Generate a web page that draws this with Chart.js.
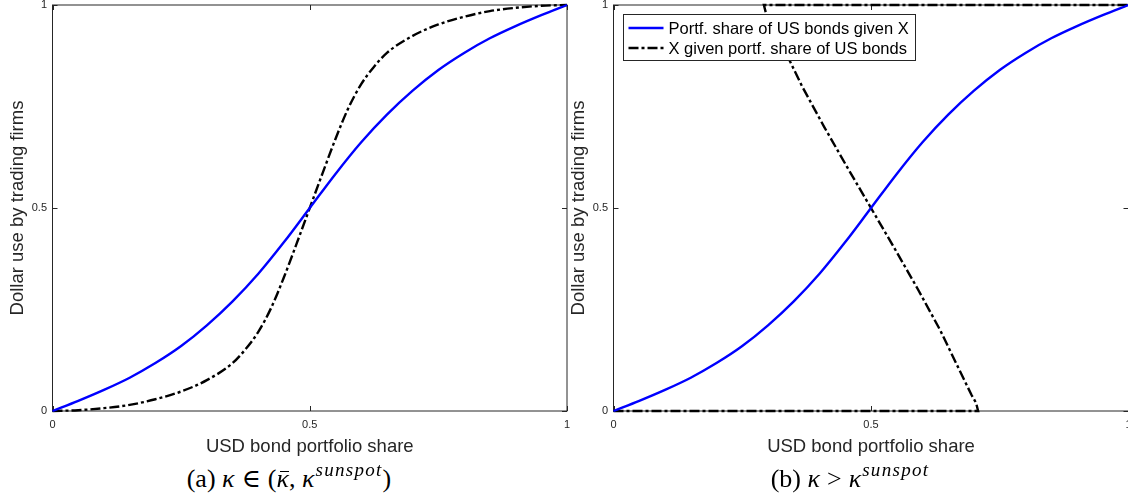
<!DOCTYPE html>
<html><head><meta charset="utf-8">
<script src="https://cdn.jsdelivr.net/npm/chart.js@4.4.1/dist/chart.umd.min.js"></script>
<style>
html,body{margin:0;padding:0;background:#fff;}
body{width:1128px;height:502px;overflow:hidden;position:relative;}
canvas{position:absolute;top:0;display:block;}
#ca{left:0;}
#cb{left:561px;}
.cap{position:absolute;top:466px;font-family:"Liberation Serif","DejaVu Serif",serif;font-size:26px;line-height:26px;text-align:center;color:#000;white-space:nowrap;}
.cap i{font-style:italic;}
.cap .sup{font-size:19px;position:relative;top:-11px;letter-spacing:1.3px;margin-left:1px;}
.cap .op{margin:0 7px;}
.cap .bar{position:relative;display:inline-block;}
.cap .bar::after{content:"";position:absolute;left:4px;right:0px;top:5px;border-top:1.6px solid #000;}
</style></head><body>
<canvas id="ca" width="580" height="462"></canvas>
<canvas id="cb" width="568" height="462"></canvas>
<div class="cap" style="left:0;width:578px;">(a) <i>κ</i><span class="op">∈</span>(<i class="bar">κ</i>, <i>κ</i><span class="sup"><i>sunspot</i></span>)</div>
<div class="cap" style="left:600px;width:500px;">(b) <i>κ</i><span class="op">&gt;</span><i>κ</i><span class="sup"><i>sunspot</i></span></div>
<script>
// ---- data ----
const xTickValues = [0, 0.5, 1];
const xTickLabels = ['0', '0.5', '1'];
const yTickValues = [0, 0.5, 1];
const yTickLabels = ['0', '0.5', '1'];
const xTitle = 'USD bond portfolio share';
const yTitle = 'Dollar use by trading firms';
const seriesNames = ['Portf. share of US bonds given X', 'X given portf. share of US bonds'];

// blue: portfolio share of US bonds given X (same in both panels)
const blueX = [0,0.05,0.1,0.15,0.2,0.25,0.3,0.35,0.4,0.45,0.5,0.55,0.6,0.65,0.7,0.75,0.8,0.85,0.9,0.95,1];
const blueY = [0,0.025,0.052,0.082,0.118,0.160,0.211,0.270,0.338,0.416,0.5,0.584,0.662,0.730,0.789,0.840,0.882,0.918,0.948,0.975,1];

// black, panel (a)
const blackAX = [0,0.05,0.1,0.15,0.2,0.25,0.3,0.35,0.375,0.4,0.425,0.45,0.475,0.5,0.525,0.55,0.575,0.6,0.625,0.65,0.7,0.75,0.8,0.85,0.9,0.95,1];
const blackAY = [0,0.002,0.007,0.015,0.029,0.048,0.076,0.118,0.152,0.195,0.254,0.33,0.414,0.5,0.586,0.67,0.746,0.805,0.848,0.882,0.924,0.952,0.971,0.985,0.993,0.998,1];

// black, panel (b) (path)
const blackBX = [0,0.708,0.704,0.695,0.672,0.634,0.591,0.546,0.5,0.454,0.409,0.366,0.328,0.305,0.296,0.292,1];
const blackBY = [0,0,0.02,0.04,0.1,0.2,0.3,0.4,0.5,0.6,0.7,0.8,0.9,0.96,0.98,1,1];

// ---- helpers ----
const FONT = '"Liberation Sans", Arial, Helvetica, sans-serif';
const AXIS = '#262626';
const pts = (xs, ys) => xs.map((x, i) => ({x: x, y: ys[i]}));

function mkScales() {
  return {
    x: {
      type: 'linear', min: 0, max: 1,
      afterBuildTicks: s => { s.ticks = xTickValues.map(v => ({value: v})); },
      afterFit: s => { s.height = 51; s.paddingLeft = 0; s.paddingRight = 0; },
      ticks: {padding: 7, color: AXIS, font: {family: FONT, size: 11}, maxRotation: 0, autoSkip: false,
              callback: (v, i) => xTickLabels[i]},
      grid: {display: false, drawTicks: false},
      border: {display: false},
      title: {display: true, text: xTitle, color: AXIS, font: {family: FONT, size: 18.5}, padding: {top: 0, bottom: 4.4}}
    },
    y: {
      type: 'linear', min: 0, max: 1,
      afterBuildTicks: s => { s.ticks = yTickValues.map(v => ({value: v})); },
      afterFit: s => { s.width = 52.5; s.paddingTop = 0; s.paddingBottom = 0; },
      ticks: {padding: 5.5, color: AXIS, font: {family: FONT, size: 11}, autoSkip: false,
              callback: (v, i) => yTickLabels[i]},
      grid: {display: false, drawTicks: false},
      border: {display: false},
      title: {display: true, text: yTitle, color: AXIS, font: {family: FONT, size: 18.5}, padding: {top: 6.4, bottom: 0}}
    }
  };
}

const boxPlugin = {
  id: 'box',
  beforeDatasetsDraw(chart) {
    const {ctx, chartArea: a, scales: {x, y}} = chart;
    ctx.save();
    ctx.strokeStyle = AXIS; ctx.lineWidth = 1;
    ctx.strokeRect(a.left, a.top, a.right - a.left, a.bottom - a.top);
    ctx.beginPath();
    xTickValues.forEach(v => {
      const px = Math.round(x.getPixelForValue(v)) + 0.5;
      ctx.moveTo(px, a.bottom); ctx.lineTo(px, a.bottom - 5);
      ctx.moveTo(px, a.top); ctx.lineTo(px, a.top + 5);
    });
    yTickValues.forEach(v => {
      const py = Math.round(y.getPixelForValue(v)) + 0.5;
      ctx.moveTo(a.left, py); ctx.lineTo(a.left + 5, py);
      ctx.moveTo(a.right, py); ctx.lineTo(a.right - 5, py);
    });
    ctx.stroke();
    ctx.restore();
  }
};

const legendPlugin = {
  id: 'lg',
  afterDatasetsDraw(chart) {
    const {ctx, chartArea: a} = chart;
    const L = Math.round(a.left + 9.5) + 0.5, T = Math.round(a.top + 9) + 0.5, W = 292, H = 46;
    ctx.save();
    ctx.fillStyle = '#fff'; ctx.fillRect(L, T, W, H);
    ctx.strokeStyle = AXIS; ctx.lineWidth = 1; ctx.strokeRect(L, T, W, H);
    chart.data.datasets.forEach((ds, i) => {
      const yy = T + 13.5 + i * 20;
      ctx.strokeStyle = ds.borderColor; ctx.lineWidth = ds.borderWidth;
      ctx.setLineDash(ds.borderDash || []);
      ctx.beginPath(); ctx.moveTo(L + 5, yy); ctx.lineTo(L + 40, yy); ctx.stroke();
      ctx.setLineDash([]);
      ctx.fillStyle = '#000'; ctx.font = '16.5px ' + FONT; ctx.textBaseline = 'middle'; ctx.textAlign = 'left';
      ctx.fillText(ds.label, L + 45, yy + 1);
    });
    ctx.restore();
  }
};

function blueDs() {
  return {label: seriesNames[0], data: pts(blueX, blueY), borderColor: '#0000ff', borderWidth: 2.4,
          pointRadius: 0, cubicInterpolationMode: 'monotone', clip: 4, fill: false};
}
function blackDs(xs, ys, smooth) {
  const d = {label: seriesNames[1], data: pts(xs, ys), borderColor: '#000000', borderWidth: 2.4,
             borderDash: [10, 3, 3, 3], borderCapStyle: 'butt', pointRadius: 0, clip: 4, fill: false, tension: 0};
  if (smooth) d.cubicInterpolationMode = 'monotone';
  return d;
}

function mkChart(id, datasets, padRight, plugins) {
  return new Chart(document.getElementById(id), {
    type: 'line',
    data: {datasets: datasets},
    options: {
      responsive: false, animation: false, devicePixelRatio: 1,
      layout: {padding: {left: 0, right: padRight, top: 5, bottom: 0}},
      plugins: {legend: {display: false}, tooltip: {enabled: false}},
      scales: mkScales()
    },
    plugins: plugins
  });
}

mkChart('ca', [blueDs(), blackDs(blackAX, blackAY, true)], 13, [boxPlugin]);
mkChart('cb', [blueDs(), blackDs(blackBX, blackBY, false)], 0.5, [boxPlugin, legendPlugin]);
</script>
</body></html>
